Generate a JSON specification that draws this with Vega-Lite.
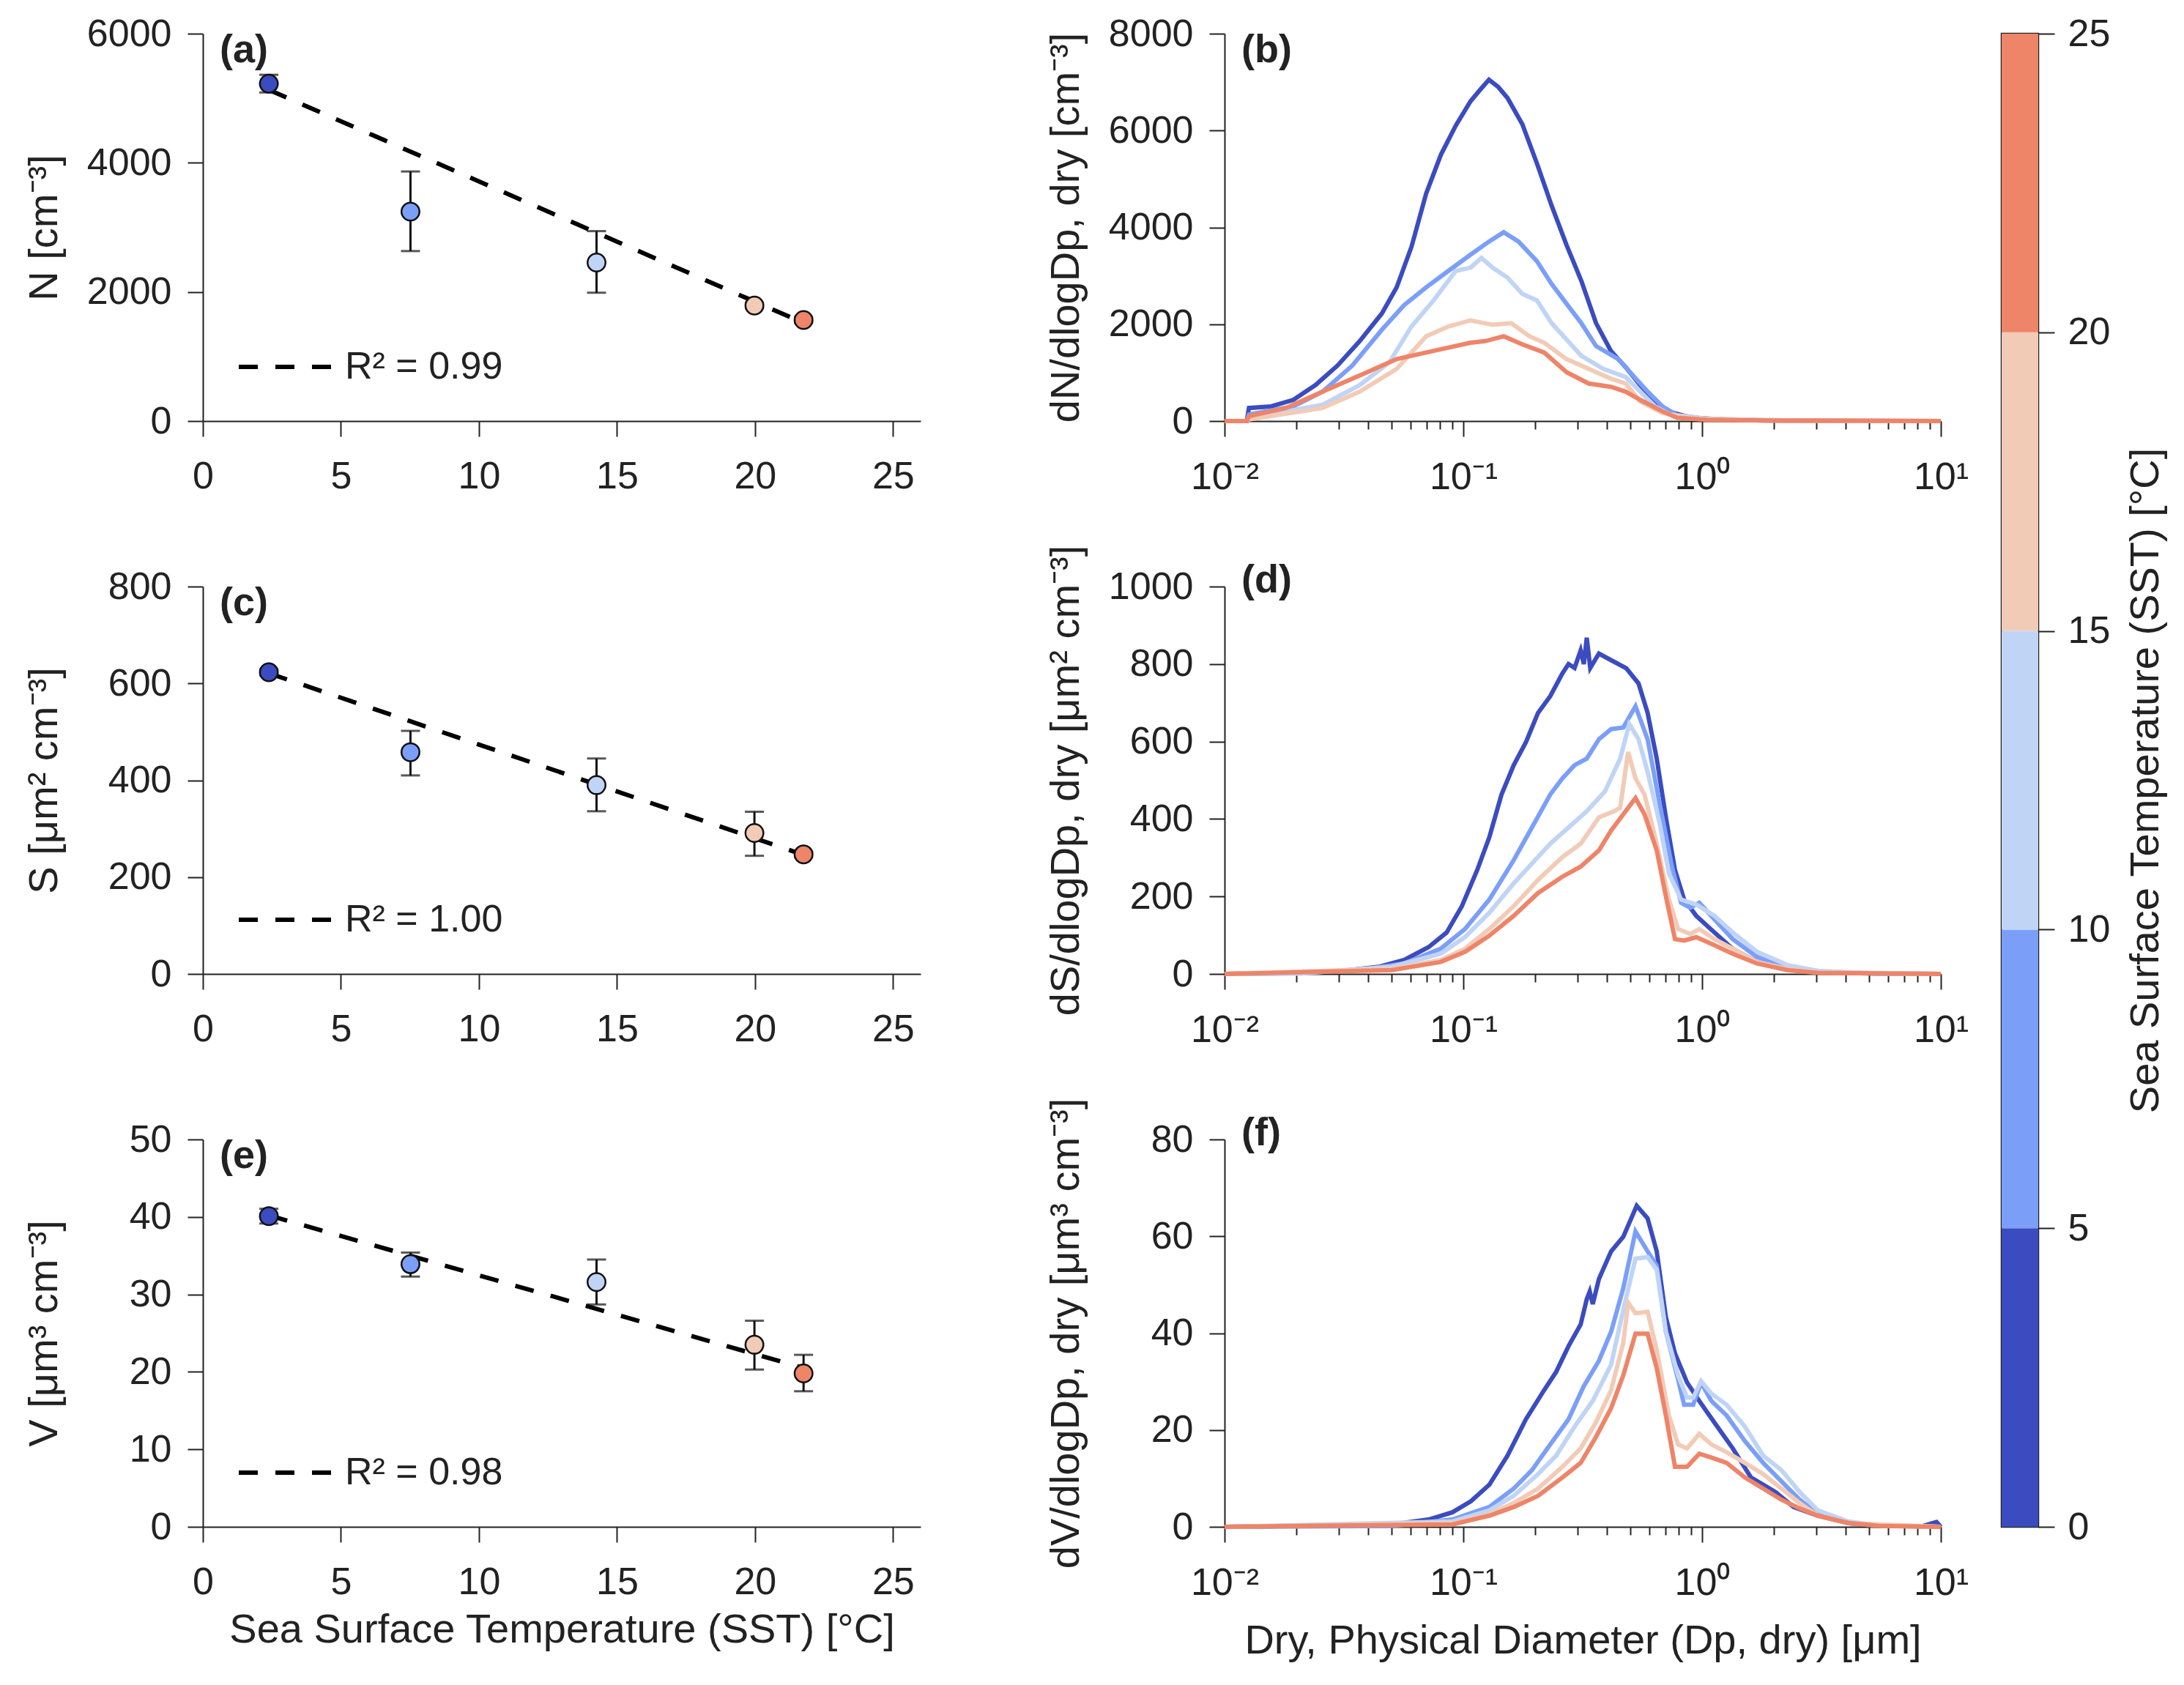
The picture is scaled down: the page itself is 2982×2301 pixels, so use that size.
{
  "$schema": "https://vega.github.io/schema/vega-lite/v6.json",
  "background": "white",
  "padding": {"left": 31, "top": 18, "right": 5, "bottom": 5},
  "config": {
    "font": "Liberation Sans",
    "view": {"stroke": null},
    "axis": {
      "domainColor": "#222", "domainWidth": 2, "tickColor": "#222", "tickWidth": 2, "tickSize": 21, "grid": false,
      "labelFont": "Liberation Sans", "labelFontSize": 52, "labelColor": "#222", "labelPadding": 22,
      "labelFlush": false, "labelOverlap": false, "labelBound": false,
      "titleFont": "Liberation Sans", "titleFontSize": 56, "titleFontWeight": "normal", "titleColor": "#222"
    },
    "axisX": {"labelPadding": 29, "titleBaseline": "alphabetic", "titleY": 157},
    "axisY": {"titleAngle": -90, "titleBaseline": "alphabetic", "titleX": -200, "format": "d"},
    "title": {"font": "Liberation Sans", "fontSize": 54, "fontWeight": "bold", "color": "#222", "anchor": "start", "frame": "group", "offset": 0, "dx": 23, "dy": 80, "baseline": "alphabetic"},
    "legend": {"labelFont": "Liberation Sans", "labelFontSize": 52, "labelColor": "#222", "padding": 0, "labelLimit": 0}
  },
  "datasets": {
    "ptN": [
      {"t": 2.39, "v": 5226, "lo": 5090, "hi": 5363},
      {"t": 7.52, "v": 3243, "lo": 2633, "hi": 3866},
      {"t": 14.26, "v": 2456, "lo": 1988, "hi": 2942},
      {"t": 19.98, "v": 1790, "lo": 1745, "hi": 1835},
      {"t": 21.76, "v": 1565, "lo": 1520, "hi": 1610}
    ],
    "ptS": [
      {"t": 2.39, "v": 623, "lo": 617, "hi": 629},
      {"t": 7.52, "v": 458, "lo": 410, "hi": 502},
      {"t": 14.26, "v": 390, "lo": 336, "hi": 445},
      {"t": 19.98, "v": 291, "lo": 244, "hi": 335},
      {"t": 21.76, "v": 247, "lo": 241, "hi": 253}
    ],
    "ptV": [
      {"t": 2.39, "v": 40.1, "lo": 39.15, "hi": 41.05},
      {"t": 7.52, "v": 33.9, "lo": 32.3, "hi": 35.4},
      {"t": 14.26, "v": 31.6, "lo": 28.7, "hi": 34.5},
      {"t": 19.98, "v": 23.5, "lo": 20.3, "hi": 26.6},
      {"t": 21.76, "v": 19.8, "lo": 17.5, "hi": 22.2}
    ],
    "fitN": [{"t": 2.39, "v": 5130, "label": "R² = 0.99"}, {"t": 21.76, "v": 1520, "label": "R² = 0.99"}],
    "fitS": [{"t": 2.39, "v": 621, "label": "R² = 1.00"}, {"t": 21.76, "v": 246, "label": "R² = 1.00"}],
    "fitV": [{"t": 2.39, "v": 40.2, "label": "R² = 0.98"}, {"t": 21.76, "v": 20.5, "label": "R² = 0.98"}],
    "bins": [
      {"lo": 0, "hi": 5, "mid": 2.5},
      {"lo": 5, "hi": 10, "mid": 7.5},
      {"lo": 10, "hi": 15, "mid": 12.5},
      {"lo": 15, "hi": 20, "mid": 17.5},
      {"lo": 20, "hi": 25, "mid": 22.5}
    ],
    "dN": [
      {"s":2.39,"d":0.01,"v":0},{"s":2.39,"d":0.01239,"v":0},{"s":2.39,"d":0.01265,"v":270},{"s":2.39,"d":0.01567,"v":303},{"s":2.39,"d":0.01941,"v":438},{"s":2.39,"d":0.02399,"v":741},{"s":2.39,"d":0.02972,"v":1146},{"s":2.39,"d":0.03681,"v":1651},{"s":2.39,"d":0.0456,"v":2224},{"s":2.39,"d":0.0526,"v":2763},{"s":2.39,"d":0.06067,"v":3600},{"s":2.39,"d":0.06989,"v":4700},{"s":2.39,"d":0.08054,"v":5500},{"s":2.39,"d":0.0929,"v":6100},{"s":2.39,"d":0.1072,"v":6605},{"s":2.39,"d":0.118,"v":6850},{"s":2.39,"d":0.128,"v":7050},{"s":2.39,"d":0.14,"v":6900},{"s":2.39,"d":0.1531,"v":6672},{"s":2.39,"d":0.1766,"v":6133},{"s":2.39,"d":0.2033,"v":5324},{"s":2.39,"d":0.2344,"v":4448},{"s":2.39,"d":0.2704,"v":3639},{"s":2.39,"d":0.3119,"v":2898},{"s":2.39,"d":0.3597,"v":2022},{"s":2.39,"d":0.415,"v":1449},{"s":2.39,"d":0.4786,"v":1112},{"s":2.39,"d":0.5508,"v":741},{"s":2.39,"d":0.6353,"v":404},{"s":2.39,"d":0.7328,"v":189},{"s":2.39,"d":0.9078,"v":67},{"s":2.39,"d":1.297,"v":27},{"s":2.39,"d":1.849,"v":13},{"s":2.39,"d":3.77,"v":2},{"s":2.39,"d":10,"v":0},
      {"s":7.52,"d":0.01,"v":0},{"s":7.52,"d":0.01239,"v":0},{"s":7.52,"d":0.01265,"v":135},{"s":7.52,"d":0.01941,"v":303},{"s":7.52,"d":0.02576,"v":607},{"s":7.52,"d":0.03428,"v":1146},{"s":7.52,"d":0.0456,"v":1887},{"s":7.52,"d":0.0565,"v":2393},{"s":7.52,"d":0.06989,"v":2763},{"s":7.52,"d":0.0865,"v":3100},{"s":7.52,"d":0.1072,"v":3437},{"s":7.52,"d":0.128,"v":3707},{"s":7.52,"d":0.1476,"v":3900},{"s":7.52,"d":0.1703,"v":3707},{"s":7.52,"d":0.2033,"v":3302},{"s":7.52,"d":0.2344,"v":2830},{"s":7.52,"d":0.2704,"v":2426},{"s":7.52,"d":0.3119,"v":2022},{"s":7.52,"d":0.3597,"v":1550},{"s":7.52,"d":0.4457,"v":1280},{"s":7.52,"d":0.5133,"v":943},{"s":7.52,"d":0.5916,"v":607},{"s":7.52,"d":0.6819,"v":303},{"s":7.52,"d":0.7864,"v":121},{"s":7.52,"d":1.047,"v":47},{"s":7.52,"d":1.849,"v":20},{"s":7.52,"d":3.77,"v":3},{"s":7.52,"d":10,"v":0},
      {"s":14.26,"d":0.01,"v":0},{"s":14.26,"d":0.01239,"v":0},{"s":14.26,"d":0.01265,"v":54},{"s":14.26,"d":0.02576,"v":337},{"s":14.26,"d":0.03681,"v":741},{"s":14.26,"d":0.049,"v":1213},{"s":14.26,"d":0.06067,"v":1954},{"s":14.26,"d":0.0751,"v":2493},{"s":14.26,"d":0.0929,"v":3100},{"s":14.26,"d":0.1072,"v":3167},{"s":14.26,"d":0.1191,"v":3370},{"s":14.26,"d":0.1327,"v":3167},{"s":14.26,"d":0.1531,"v":2965},{"s":14.26,"d":0.1766,"v":2628},{"s":14.26,"d":0.2033,"v":2493},{"s":14.26,"d":0.2344,"v":2022},{"s":14.26,"d":0.2704,"v":1685},{"s":14.26,"d":0.3119,"v":1348},{"s":14.26,"d":0.3864,"v":1078},{"s":14.26,"d":0.4786,"v":910},{"s":14.26,"d":0.5508,"v":607},{"s":14.26,"d":0.6353,"v":303},{"s":14.26,"d":0.7328,"v":135},{"s":14.26,"d":1.047,"v":47},{"s":14.26,"d":1.849,"v":20},{"s":14.26,"d":3.77,"v":3},{"s":14.26,"d":10,"v":0},
      {"s":19.98,"d":0.01,"v":0},{"s":19.98,"d":0.01239,"v":0},{"s":19.98,"d":0.01265,"v":34},{"s":19.98,"d":0.02576,"v":270},{"s":19.98,"d":0.03681,"v":607},{"s":19.98,"d":0.0526,"v":1078},{"s":19.98,"d":0.06989,"v":1752},{"s":19.98,"d":0.0865,"v":1954},{"s":19.98,"d":0.1072,"v":2080},{"s":19.98,"d":0.1327,"v":1988},{"s":19.98,"d":0.1585,"v":2022},{"s":19.98,"d":0.1892,"v":1752},{"s":19.98,"d":0.2182,"v":1617},{"s":19.98,"d":0.2704,"v":1280},{"s":19.98,"d":0.3351,"v":1078},{"s":19.98,"d":0.415,"v":876},{"s":19.98,"d":0.4786,"v":775},{"s":19.98,"d":0.5508,"v":404},{"s":19.98,"d":0.6819,"v":168},{"s":19.98,"d":0.9078,"v":54},{"s":19.98,"d":1.849,"v":13},{"s":19.98,"d":10,"v":0},
      {"s":21.76,"d":0.01,"v":0},{"s":21.76,"d":0.01239,"v":0},{"s":21.76,"d":0.01265,"v":101},{"s":21.76,"d":0.01807,"v":270},{"s":21.76,"d":0.02576,"v":607},{"s":21.76,"d":0.03681,"v":943},{"s":21.76,"d":0.0526,"v":1280},{"s":21.76,"d":0.0751,"v":1449},{"s":21.76,"d":0.1072,"v":1617},{"s":21.76,"d":0.1236,"v":1651},{"s":21.76,"d":0.1476,"v":1752},{"s":21.76,"d":0.1766,"v":1584},{"s":21.76,"d":0.2182,"v":1415},{"s":21.76,"d":0.2704,"v":1011},{"s":21.76,"d":0.3351,"v":775},{"s":21.76,"d":0.415,"v":708},{"s":21.76,"d":0.4786,"v":607},{"s":21.76,"d":0.5508,"v":438},{"s":21.76,"d":0.6819,"v":202},{"s":21.76,"d":0.7864,"v":67},{"s":21.76,"d":1.047,"v":27},{"s":21.76,"d":1.849,"v":13},{"s":21.76,"d":10,"v":0}
    ],
    "dS": [
      {"s":2.39,"d":0.01,"v":0},{"s":2.39,"d":0.02083,"v":3},{"s":2.39,"d":0.03141,"v":8},{"s":2.39,"d":0.04467,"v":19},{"s":2.39,"d":0.05649,"v":36},{"s":2.39,"d":0.07144,"v":69},{"s":2.39,"d":0.08514,"v":107},{"s":2.39,"d":0.09862,"v":175},{"s":2.39,"d":0.1143,"v":268},{"s":2.39,"d":0.1285,"v":353},{"s":2.39,"d":0.1445,"v":463},{"s":2.39,"d":0.1626,"v":539},{"s":2.39,"d":0.1828,"v":598},{"s":2.39,"d":0.2056,"v":674},{"s":2.39,"d":0.2312,"v":717},{"s":2.39,"d":0.26,"v":776},{"s":2.39,"d":0.2757,"v":800},{"s":2.39,"d":0.2924,"v":790},{"s":2.39,"d":0.31,"v":835},{"s":2.39,"d":0.3198,"v":800},{"s":2.39,"d":0.3288,"v":868},{"s":2.39,"d":0.34,"v":790},{"s":2.39,"d":0.3698,"v":827},{"s":2.39,"d":0.4159,"v":810},{"s":2.39,"d":0.4815,"v":789},{"s":2.39,"d":0.5418,"v":750},{"s":2.39,"d":0.5913,"v":674},{"s":2.39,"d":0.6457,"v":556},{"s":2.39,"d":0.7053,"v":404},{"s":2.39,"d":0.77,"v":268},{"s":2.39,"d":0.8408,"v":192},{"s":2.39,"d":0.9454,"v":150},{"s":2.39,"d":1.127,"v":107},{"s":2.39,"d":1.344,"v":65},{"s":2.39,"d":1.698,"v":31},{"s":2.39,"d":2.278,"v":13},{"s":2.39,"d":3.056,"v":4},{"s":2.39,"d":5.495,"v":1},{"s":2.39,"d":10,"v":0},
      {"s":7.52,"d":0.01,"v":0},{"s":7.52,"d":0.02083,"v":2},{"s":7.52,"d":0.03972,"v":13},{"s":7.52,"d":0.05649,"v":27},{"s":7.52,"d":0.08035,"v":65},{"s":7.52,"d":0.1016,"v":116},{"s":7.52,"d":0.1285,"v":192},{"s":7.52,"d":0.1626,"v":294},{"s":7.52,"d":0.1938,"v":378},{"s":7.52,"d":0.2312,"v":463},{"s":7.52,"d":0.26,"v":505},{"s":7.52,"d":0.2924,"v":539},{"s":7.52,"d":0.3288,"v":556},{"s":7.52,"d":0.3698,"v":606},{"s":7.52,"d":0.4159,"v":632},{"s":7.52,"d":0.4677,"v":636},{"s":7.52,"d":0.5261,"v":691},{"s":7.52,"d":0.5913,"v":606},{"s":7.52,"d":0.6652,"v":437},{"s":7.52,"d":0.7479,"v":277},{"s":7.52,"d":0.8165,"v":184},{"s":7.52,"d":0.8915,"v":171},{"s":7.52,"d":0.9734,"v":184},{"s":7.52,"d":1.127,"v":141},{"s":7.52,"d":1.344,"v":90},{"s":7.52,"d":1.698,"v":44},{"s":7.52,"d":2.278,"v":19},{"s":7.52,"d":3.056,"v":6},{"s":7.52,"d":5.495,"v":1},{"s":7.52,"d":10,"v":0},
      {"s":14.26,"d":0.01,"v":0},{"s":14.26,"d":0.02083,"v":1},{"s":14.26,"d":0.05023,"v":19},{"s":14.26,"d":0.08035,"v":52},{"s":14.26,"d":0.1016,"v":95},{"s":14.26,"d":0.1285,"v":158},{"s":14.26,"d":0.1626,"v":234},{"s":14.26,"d":0.1938,"v":285},{"s":14.26,"d":0.2312,"v":336},{"s":14.26,"d":0.2757,"v":378},{"s":14.26,"d":0.3288,"v":420},{"s":14.26,"d":0.3917,"v":471},{"s":14.26,"d":0.4539,"v":556},{"s":14.26,"d":0.4955,"v":645},{"s":14.26,"d":0.5418,"v":606},{"s":14.26,"d":0.5913,"v":522},{"s":14.26,"d":0.6652,"v":387},{"s":14.26,"d":0.7261,"v":260},{"s":14.26,"d":0.8165,"v":192},{"s":14.26,"d":0.9454,"v":179},{"s":14.26,"d":1.127,"v":150},{"s":14.26,"d":1.344,"v":107},{"s":14.26,"d":1.698,"v":57},{"s":14.26,"d":2.278,"v":23},{"s":14.26,"d":3.056,"v":8},{"s":14.26,"d":5.495,"v":1},{"s":14.26,"d":10,"v":0},
      {"s":19.98,"d":0.01,"v":0},{"s":19.98,"d":0.05023,"v":13},{"s":19.98,"d":0.08035,"v":36},{"s":19.98,"d":0.1016,"v":65},{"s":19.98,"d":0.1285,"v":116},{"s":19.98,"d":0.1626,"v":175},{"s":19.98,"d":0.2056,"v":243},{"s":19.98,"d":0.26,"v":302},{"s":19.98,"d":0.31,"v":336},{"s":19.98,"d":0.3698,"v":404},{"s":19.98,"d":0.428,"v":420},{"s":19.98,"d":0.4539,"v":429},{"s":19.98,"d":0.49,"v":573},{"s":19.98,"d":0.5261,"v":505},{"s":19.98,"d":0.574,"v":463},{"s":19.98,"d":0.6457,"v":336},{"s":19.98,"d":0.7261,"v":192},{"s":19.98,"d":0.7929,"v":116},{"s":19.98,"d":0.8915,"v":103},{"s":19.98,"d":0.9734,"v":116},{"s":19.98,"d":1.127,"v":90},{"s":19.98,"d":1.344,"v":65},{"s":19.98,"d":1.698,"v":31},{"s":19.98,"d":2.278,"v":13},{"s":19.98,"d":3.056,"v":4},{"s":19.98,"d":10,"v":0},
      {"s":21.76,"d":0.01,"v":0},{"s":21.76,"d":0.05023,"v":10},{"s":21.76,"d":0.08035,"v":31},{"s":21.76,"d":0.1016,"v":57},{"s":21.76,"d":0.1285,"v":99},{"s":21.76,"d":0.1626,"v":150},{"s":21.76,"d":0.2056,"v":209},{"s":21.76,"d":0.26,"v":251},{"s":21.76,"d":0.31,"v":277},{"s":21.76,"d":0.3698,"v":319},{"s":21.76,"d":0.4159,"v":370},{"s":21.76,"d":0.4677,"v":412},{"s":21.76,"d":0.5261,"v":454},{"s":21.76,"d":0.574,"v":412},{"s":21.76,"d":0.6457,"v":319},{"s":21.76,"d":0.7053,"v":200},{"s":21.76,"d":0.77,"v":90},{"s":21.76,"d":0.8408,"v":86},{"s":21.76,"d":0.9454,"v":95},{"s":21.76,"d":1.127,"v":74},{"s":21.76,"d":1.344,"v":52},{"s":21.76,"d":1.698,"v":27},{"s":21.76,"d":2.278,"v":10},{"s":21.76,"d":3.056,"v":3},{"s":21.76,"d":10,"v":0}
    ],
    "dV": [
      {"s":2.39,"d":0.01,"v":0},{"s":2.39,"d":0.05023,"v":0.5},{"s":2.39,"d":0.07144,"v":1.5},{"s":2.39,"d":0.09,"v":3},{"s":2.39,"d":0.1076,"v":5.3},{"s":2.39,"d":0.1285,"v":8.7},{"s":2.39,"d":0.1531,"v":14.7},{"s":2.39,"d":0.1828,"v":22.2},{"s":2.39,"d":0.2178,"v":28.2},{"s":2.39,"d":0.2448,"v":32},{"s":2.39,"d":0.2757,"v":37.3},{"s":2.39,"d":0.31,"v":41.8},{"s":2.39,"d":0.3288,"v":47},{"s":2.39,"d":0.3384,"v":48.6},{"s":2.39,"d":0.3484,"v":46},{"s":2.39,"d":0.3698,"v":51.2},{"s":2.39,"d":0.4159,"v":56.9},{"s":2.39,"d":0.4677,"v":59.9},{"s":2.39,"d":0.5322,"v":66.3},{"s":2.39,"d":0.5913,"v":63.7},{"s":2.39,"d":0.6457,"v":56.9},{"s":2.39,"d":0.7053,"v":43.3},{"s":2.39,"d":0.77,"v":35.8},{"s":2.39,"d":0.8649,"v":29.8},{"s":2.39,"d":0.9734,"v":26},{"s":2.39,"d":1.127,"v":21.5},{"s":2.39,"d":1.344,"v":16.2},{"s":2.39,"d":1.602,"v":10.2},{"s":2.39,"d":2.028,"v":7.2},{"s":2.39,"d":2.416,"v":4.1},{"s":2.39,"d":3.056,"v":2.3},{"s":2.39,"d":4.102,"v":0.75},{"s":2.39,"d":5.495,"v":0.2},{"s":2.39,"d":8.3,"v":0.1},{"s":2.39,"d":9.59,"v":1},{"s":2.39,"d":10,"v":0},
      {"s":7.52,"d":0.01,"v":0},{"s":7.52,"d":0.05023,"v":0.2},{"s":7.52,"d":0.09,"v":1.5},{"s":7.52,"d":0.1285,"v":4.1},{"s":7.52,"d":0.1626,"v":7.9},{"s":7.52,"d":0.1938,"v":11.7},{"s":7.52,"d":0.2312,"v":17},{"s":7.52,"d":0.2757,"v":22.2},{"s":7.52,"d":0.3192,"v":29},{"s":7.52,"d":0.3698,"v":34.3},{"s":7.52,"d":0.4159,"v":40.3},{"s":7.52,"d":0.4677,"v":49.3},{"s":7.52,"d":0.5261,"v":61},{"s":7.52,"d":0.5913,"v":56.9},{"s":7.52,"d":0.6457,"v":53.9},{"s":7.52,"d":0.7053,"v":40.3},{"s":7.52,"d":0.7929,"v":30.5},{"s":7.52,"d":0.8408,"v":25.2},{"s":7.52,"d":0.9177,"v":25.2},{"s":7.52,"d":0.9907,"v":29.8},{"s":7.52,"d":1.094,"v":26},{"s":7.52,"d":1.267,"v":23},{"s":7.52,"d":1.511,"v":17.7},{"s":7.52,"d":1.802,"v":13.2},{"s":7.52,"d":2.149,"v":9.4},{"s":7.52,"d":2.562,"v":5.6},{"s":7.52,"d":3.056,"v":2.6},{"s":7.52,"d":4.102,"v":0.9},{"s":7.52,"d":5.495,"v":0.3},{"s":7.52,"d":10,"v":0},
      {"s":14.26,"d":0.01,"v":0},{"s":14.26,"d":0.09,"v":1.1},{"s":14.26,"d":0.1285,"v":3.4},{"s":14.26,"d":0.1626,"v":6.4},{"s":14.26,"d":0.2056,"v":10.9},{"s":14.26,"d":0.2448,"v":14.7},{"s":14.26,"d":0.2924,"v":20.7},{"s":14.26,"d":0.3484,"v":26},{"s":14.26,"d":0.4159,"v":33.5},{"s":14.26,"d":0.4677,"v":44.8},{"s":14.26,"d":0.5261,"v":55.4},{"s":14.26,"d":0.5913,"v":55.7},{"s":14.26,"d":0.6457,"v":53.1},{"s":14.26,"d":0.7053,"v":40.3},{"s":14.26,"d":0.7929,"v":31.3},{"s":14.26,"d":0.8649,"v":26.7},{"s":14.26,"d":0.9177,"v":26.7},{"s":14.26,"d":0.9907,"v":30.1},{"s":14.26,"d":1.094,"v":27.5},{"s":14.26,"d":1.267,"v":25.2},{"s":14.26,"d":1.511,"v":20.7},{"s":14.26,"d":1.802,"v":14.7},{"s":14.26,"d":2.149,"v":11.7},{"s":14.26,"d":2.562,"v":7.2},{"s":14.26,"d":3.056,"v":3.4},{"s":14.26,"d":4.102,"v":1.1},{"s":14.26,"d":5.495,"v":0.3},{"s":14.26,"d":10,"v":0},
      {"s":19.98,"d":0.01,"v":0},{"s":19.98,"d":0.09,"v":0.75},{"s":19.98,"d":0.1285,"v":2.6},{"s":19.98,"d":0.1626,"v":4.9},{"s":19.98,"d":0.2056,"v":7.9},{"s":19.98,"d":0.26,"v":12.4},{"s":19.98,"d":0.31,"v":16.2},{"s":19.98,"d":0.3587,"v":21.5},{"s":19.98,"d":0.4159,"v":28.2},{"s":19.98,"d":0.4677,"v":38},{"s":19.98,"d":0.49,"v":46.3},{"s":19.98,"d":0.5261,"v":44.1},{"s":19.98,"d":0.5913,"v":44.4},{"s":19.98,"d":0.6457,"v":36.5},{"s":19.98,"d":0.7261,"v":23},{"s":19.98,"d":0.7929,"v":17},{"s":19.98,"d":0.8649,"v":16.2},{"s":19.98,"d":0.9734,"v":19.2},{"s":19.98,"d":1.094,"v":17},{"s":19.98,"d":1.267,"v":15.4},{"s":19.98,"d":1.511,"v":13.2},{"s":19.98,"d":1.802,"v":10.9},{"s":19.98,"d":2.149,"v":7.9},{"s":19.98,"d":2.562,"v":4.9},{"s":19.98,"d":3.056,"v":2.3},{"s":19.98,"d":4.102,"v":0.75},{"s":19.98,"d":10,"v":0},
      {"s":21.76,"d":0.01,"v":0},{"s":21.76,"d":0.09,"v":0.5},{"s":21.76,"d":0.1285,"v":2.3},{"s":21.76,"d":0.1626,"v":4.1},{"s":21.76,"d":0.2056,"v":6.4},{"s":21.76,"d":0.26,"v":10.2},{"s":21.76,"d":0.31,"v":13.2},{"s":21.76,"d":0.3587,"v":18.5},{"s":21.76,"d":0.4159,"v":24.5},{"s":21.76,"d":0.4677,"v":31.3},{"s":21.76,"d":0.5261,"v":39.9},{"s":21.76,"d":0.5913,"v":39.9},{"s":21.76,"d":0.6457,"v":32.8},{"s":21.76,"d":0.7053,"v":23},{"s":21.76,"d":0.77,"v":12.4},{"s":21.76,"d":0.8649,"v":12.4},{"s":21.76,"d":0.9734,"v":15.1},{"s":21.76,"d":1.094,"v":14.3},{"s":21.76,"d":1.267,"v":13.2},{"s":21.76,"d":1.511,"v":10.2},{"s":21.76,"d":1.802,"v":7.9},{"s":21.76,"d":2.149,"v":5.6},{"s":21.76,"d":2.562,"v":3.8},{"s":21.76,"d":3.056,"v":2.3},{"s":21.76,"d":4.102,"v":0.8},{"s":21.76,"d":5.495,"v":0.2},{"s":21.76,"d":10,"v":0}
    ]
  },
  "hconcat": [
    {
      "concat": [
        {
          "width": 980, "height": 529, "title": "(a)",
          "layer": [
            {"data": {"name": "fitN"}, "mark": {"type": "line", "color": "#000", "strokeWidth": 6},
             "encoding": {
               "x": {"field": "t", "type": "quantitative", "title": null, "scale": {"domain": [0, 25]}, "axis": {"values": [0, 5, 10, 15, 20, 25], "title": null}},
               "y": {"field": "v", "type": "quantitative", "title": "N [cm⁻³]", "scale": {"domain": [0, 6000]}, "axis": {"values": [0, 2000, 4000, 6000]}},
               "strokeDash": {"field": "label", "type": "nominal", "scale": {"range": [[26, 24]]}, "legend": {"title": null, "orient": "none", "legendX": 46, "legendY": 389, "symbolType": "stroke", "symbolSize": 15876, "symbolStrokeWidth": 6, "symbolStrokeColor": "#000", "labelOffset": 16}}
             }},
            {"data": {"name": "ptN"}, "mark": {"type": "rule", "color": "#111", "strokeWidth": 3},
             "encoding": {"x": {"field": "t", "type": "quantitative", "title": null}, "y": {"field": "lo", "type": "quantitative", "title": "N [cm⁻³]"}, "y2": {"field": "hi"}}},
            {"data": {"name": "ptN"}, "mark": {"type": "tick", "orient": "horizontal", "size": 26, "thickness": 3, "color": "#111"},
             "encoding": {"x": {"field": "t", "type": "quantitative", "title": null}, "y": {"field": "lo", "type": "quantitative", "title": "N [cm⁻³]"}}},
            {"data": {"name": "ptN"}, "mark": {"type": "tick", "orient": "horizontal", "size": 26, "thickness": 3, "color": "#111"},
             "encoding": {"x": {"field": "t", "type": "quantitative", "title": null}, "y": {"field": "hi", "type": "quantitative", "title": "N [cm⁻³]"}}},
            {"data": {"name": "ptN"}, "mark": {"type": "point", "shape": "circle", "filled": true, "size": 600, "stroke": "#111", "strokeWidth": 2.5, "opacity": 1},
             "encoding": {"x": {"field": "t", "type": "quantitative", "title": null}, "y": {"field": "v", "type": "quantitative", "title": "N [cm⁻³]"},
               "color": {"field": "t", "type": "quantitative", "scale": {"type": "threshold", "domain": [5, 10, 15, 20], "range": ["#3B4CC0", "#7B9FF9", "#C0D4F5", "#F2CBB7", "#EE8468"]}, "legend": null}}}
          ]
        },
        {
          "width": 978, "height": 529, "title": "(b)",
          "data": {"name": "dN"},
          "mark": {"type": "line", "strokeWidth": 6},
          "encoding": {
            "x": {"field": "d", "type": "quantitative", "scale": {"type": "log", "domain": [0.01, 10]},
                  "axis": {"title": null, "values": [0.01,0.02,0.03,0.04,0.05,0.06,0.07,0.08,0.09,0.1,0.2,0.3,0.4,0.5,0.6,0.7,0.8,0.9,1,2,3,4,5,6,7,8,9,10],
                           "labelExpr": "datum.value == 0.01 ? '10⁻²' : datum.value == 0.1 ? '10⁻¹' : datum.value == 1 ? '10⁰' : datum.value == 10 ? '10¹' : ''",
                           "tickSize": {"condition": {"test": "indexof([0.01, 0.1, 1, 10], datum.value) >= 0", "value": 21}, "value": 11},
                           "labelPadding": 30}},
            "y": {"field": "v", "type": "quantitative", "scale": {"domain": [0, 8000]}, "axis": {"values": [0, 2000, 4000, 6000, 8000], "title": "dN/dlogDp, dry [cm⁻³]"}},
            "color": {"field": "s", "type": "quantitative", "scale": {"type": "threshold", "domain": [5, 10, 15, 20], "range": ["#3B4CC0", "#7B9FF9", "#C0D4F5", "#F2CBB7", "#EE8468"]}, "legend": null},
            "detail": {"field": "s", "type": "nominal"}
          }
        },
        {
          "width": 980, "height": 529, "title": "(c)",
          "layer": [
            {"data": {"name": "fitS"}, "mark": {"type": "line", "color": "#000", "strokeWidth": 6},
             "encoding": {
               "x": {"field": "t", "type": "quantitative", "title": null, "scale": {"domain": [0, 25]}, "axis": {"values": [0, 5, 10, 15, 20, 25], "title": null}},
               "y": {"field": "v", "type": "quantitative", "title": "S [μm² cm⁻³]", "scale": {"domain": [0, 800]}, "axis": {"values": [0, 200, 400, 600, 800]}},
               "strokeDash": {"field": "label", "type": "nominal", "scale": {"range": [[26, 24]]}, "legend": {"title": null, "orient": "none", "legendX": 46, "legendY": 389, "symbolType": "stroke", "symbolSize": 15876, "symbolStrokeWidth": 6, "symbolStrokeColor": "#000", "labelOffset": 16}}
             }},
            {"data": {"name": "ptS"}, "mark": {"type": "rule", "color": "#111", "strokeWidth": 3},
             "encoding": {"x": {"field": "t", "type": "quantitative", "title": null}, "y": {"field": "lo", "type": "quantitative", "title": "S [μm² cm⁻³]"}, "y2": {"field": "hi"}}},
            {"data": {"name": "ptS"}, "mark": {"type": "tick", "orient": "horizontal", "size": 26, "thickness": 3, "color": "#111"},
             "encoding": {"x": {"field": "t", "type": "quantitative", "title": null}, "y": {"field": "lo", "type": "quantitative", "title": "S [μm² cm⁻³]"}}},
            {"data": {"name": "ptS"}, "mark": {"type": "tick", "orient": "horizontal", "size": 26, "thickness": 3, "color": "#111"},
             "encoding": {"x": {"field": "t", "type": "quantitative", "title": null}, "y": {"field": "hi", "type": "quantitative", "title": "S [μm² cm⁻³]"}}},
            {"data": {"name": "ptS"}, "mark": {"type": "point", "shape": "circle", "filled": true, "size": 600, "stroke": "#111", "strokeWidth": 2.5, "opacity": 1},
             "encoding": {"x": {"field": "t", "type": "quantitative", "title": null}, "y": {"field": "v", "type": "quantitative", "title": "S [μm² cm⁻³]"},
               "color": {"field": "t", "type": "quantitative", "scale": {"type": "threshold", "domain": [5, 10, 15, 20], "range": ["#3B4CC0", "#7B9FF9", "#C0D4F5", "#F2CBB7", "#EE8468"]}, "legend": null}}}
          ]
        },
        {
          "width": 978, "height": 529, "title": "(d)",
          "data": {"name": "dS"},
          "mark": {"type": "line", "strokeWidth": 6},
          "encoding": {
            "x": {"field": "d", "type": "quantitative", "scale": {"type": "log", "domain": [0.01, 10]},
                  "axis": {"title": null, "values": [0.01,0.02,0.03,0.04,0.05,0.06,0.07,0.08,0.09,0.1,0.2,0.3,0.4,0.5,0.6,0.7,0.8,0.9,1,2,3,4,5,6,7,8,9,10],
                           "labelExpr": "datum.value == 0.01 ? '10⁻²' : datum.value == 0.1 ? '10⁻¹' : datum.value == 1 ? '10⁰' : datum.value == 10 ? '10¹' : ''",
                           "tickSize": {"condition": {"test": "indexof([0.01, 0.1, 1, 10], datum.value) >= 0", "value": 21}, "value": 11},
                           "labelPadding": 30}},
            "y": {"field": "v", "type": "quantitative", "scale": {"domain": [0, 1000]}, "axis": {"values": [0, 200, 400, 600, 800, 1000], "title": "dS/dlogDp, dry [μm² cm⁻³]"}},
            "color": {"field": "s", "type": "quantitative", "scale": {"type": "threshold", "domain": [5, 10, 15, 20], "range": ["#3B4CC0", "#7B9FF9", "#C0D4F5", "#F2CBB7", "#EE8468"]}, "legend": null},
            "detail": {"field": "s", "type": "nominal"}
          }
        },
        {
          "width": 980, "height": 529, "title": "(e)",
          "layer": [
            {"data": {"name": "fitV"}, "mark": {"type": "line", "color": "#000", "strokeWidth": 6},
             "encoding": {
               "x": {"field": "t", "type": "quantitative", "title": "Sea Surface Temperature (SST) [°C]", "scale": {"domain": [0, 25]}, "axis": {"values": [0, 5, 10, 15, 20, 25]}},
               "y": {"field": "v", "type": "quantitative", "title": "V [μm³ cm⁻³]", "scale": {"domain": [0, 50]}, "axis": {"values": [0, 10, 20, 30, 40, 50]}},
               "strokeDash": {"field": "label", "type": "nominal", "scale": {"range": [[26, 24]]}, "legend": {"title": null, "orient": "none", "legendX": 46, "legendY": 389, "symbolType": "stroke", "symbolSize": 15876, "symbolStrokeWidth": 6, "symbolStrokeColor": "#000", "labelOffset": 16}}
             }},
            {"data": {"name": "ptV"}, "mark": {"type": "rule", "color": "#111", "strokeWidth": 3},
             "encoding": {"x": {"field": "t", "type": "quantitative", "title": "Sea Surface Temperature (SST) [°C]"}, "y": {"field": "lo", "type": "quantitative", "title": "V [μm³ cm⁻³]"}, "y2": {"field": "hi"}}},
            {"data": {"name": "ptV"}, "mark": {"type": "tick", "orient": "horizontal", "size": 26, "thickness": 3, "color": "#111"},
             "encoding": {"x": {"field": "t", "type": "quantitative", "title": "Sea Surface Temperature (SST) [°C]"}, "y": {"field": "lo", "type": "quantitative", "title": "V [μm³ cm⁻³]"}}},
            {"data": {"name": "ptV"}, "mark": {"type": "tick", "orient": "horizontal", "size": 26, "thickness": 3, "color": "#111"},
             "encoding": {"x": {"field": "t", "type": "quantitative", "title": "Sea Surface Temperature (SST) [°C]"}, "y": {"field": "hi", "type": "quantitative", "title": "V [μm³ cm⁻³]"}}},
            {"data": {"name": "ptV"}, "mark": {"type": "point", "shape": "circle", "filled": true, "size": 600, "stroke": "#111", "strokeWidth": 2.5, "opacity": 1},
             "encoding": {"x": {"field": "t", "type": "quantitative", "title": "Sea Surface Temperature (SST) [°C]"}, "y": {"field": "v", "type": "quantitative", "title": "V [μm³ cm⁻³]"},
               "color": {"field": "t", "type": "quantitative", "scale": {"type": "threshold", "domain": [5, 10, 15, 20], "range": ["#3B4CC0", "#7B9FF9", "#C0D4F5", "#F2CBB7", "#EE8468"]}, "legend": null}}}
          ]
        },
        {
          "width": 978, "height": 529, "title": "(f)",
          "data": {"name": "dV"},
          "mark": {"type": "line", "strokeWidth": 6},
          "encoding": {
            "x": {"field": "d", "type": "quantitative", "scale": {"type": "log", "domain": [0.01, 10]},
                  "axis": {"title": "Dry, Physical Diameter (Dp, dry) [μm]", "titleY": 172, "values": [0.01,0.02,0.03,0.04,0.05,0.06,0.07,0.08,0.09,0.1,0.2,0.3,0.4,0.5,0.6,0.7,0.8,0.9,1,2,3,4,5,6,7,8,9,10],
                           "labelExpr": "datum.value == 0.01 ? '10⁻²' : datum.value == 0.1 ? '10⁻¹' : datum.value == 1 ? '10⁰' : datum.value == 10 ? '10¹' : ''",
                           "tickSize": {"condition": {"test": "indexof([0.01, 0.1, 1, 10], datum.value) >= 0", "value": 21}, "value": 11},
                           "labelPadding": 30}},
            "y": {"field": "v", "type": "quantitative", "scale": {"domain": [0, 80]}, "axis": {"values": [0, 20, 40, 60, 80], "title": "dV/dlogDp, dry [μm³ cm⁻³]"}},
            "color": {"field": "s", "type": "quantitative", "scale": {"type": "threshold", "domain": [5, 10, 15, 20], "range": ["#3B4CC0", "#7B9FF9", "#C0D4F5", "#F2CBB7", "#EE8468"]}, "legend": null},
            "detail": {"field": "s", "type": "nominal"}
          }
        }
      ],
      "columns": 2,
      "spacing": {"row": 226, "column": 415},
      "bounds": "flush",
      "resolve": {"scale": {"strokeDash": "independent"}, "legend": {"strokeDash": "independent"}}
    },
    {
      "width": 50, "height": 2039,
      "data": {"name": "bins"},
      "view": {"stroke": "#222", "strokeWidth": 2.5},
      "mark": {"type": "rect"},
      "encoding": {
        "y": {"field": "lo", "type": "quantitative", "scale": {"domain": [0, 25]},
              "axis": {"orient": "right", "values": [0, 5, 10, 15, 20, 25], "domain": false, "tickSize": 22, "labelPadding": 18,
                       "title": "Sea Surface Temperature (SST) [°C]", "titleAngle": -90, "titleX": 163, "titleBaseline": "alphabetic"}},
        "y2": {"field": "hi"},
        "color": {"field": "mid", "type": "quantitative", "scale": {"type": "threshold", "domain": [5, 10, 15, 20], "range": ["#3B4CC0", "#7B9FF9", "#C0D4F5", "#F2CBB7", "#EE8468"]}, "legend": null}
      }
    }
  ],
  "spacing": 43
}
